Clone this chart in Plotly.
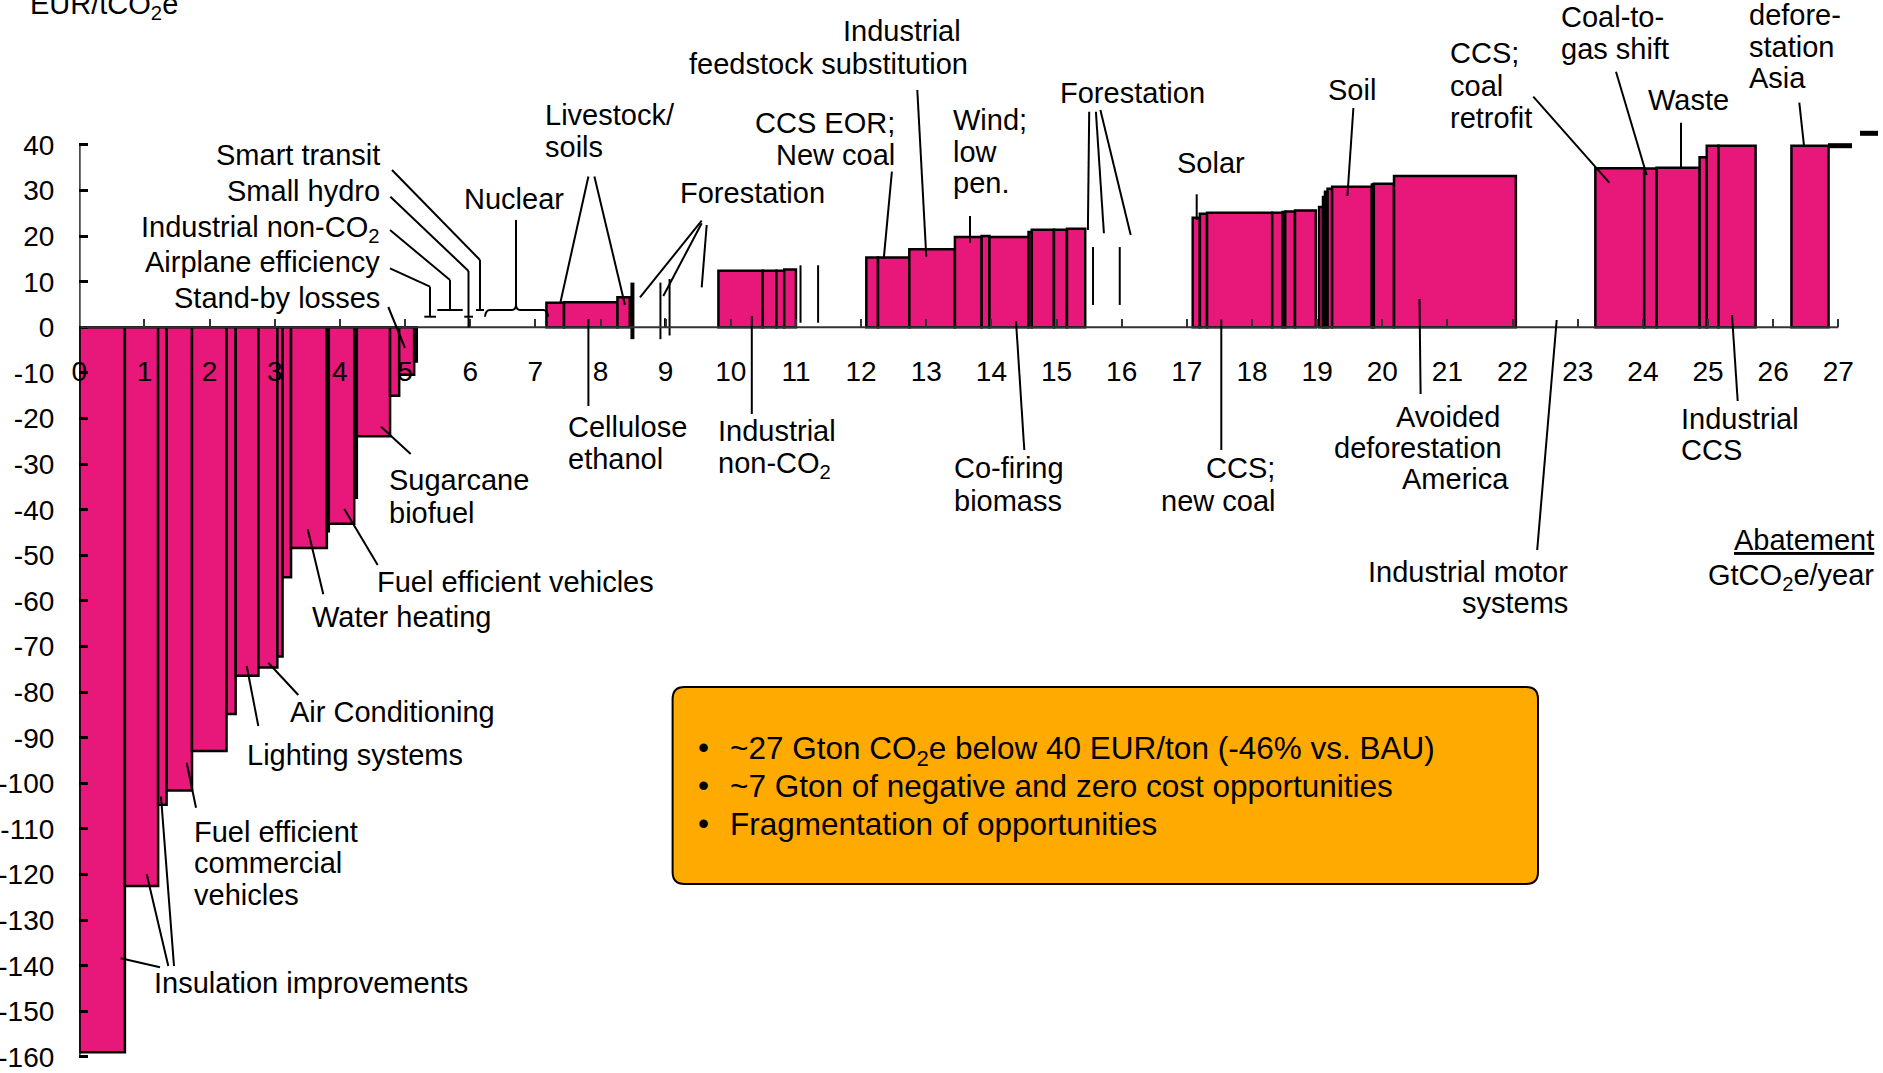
import plotly.graph_objects as go

# ---------------- data ----------------
# abatement segments: left edge (GtCO2e/yr), width (GtCO2e/yr), cost (EUR/tCO2e)
seg_left = [0.00, 0.70, 1.21, 1.34, 1.73, 2.26, 2.40, 2.75, 3.04, 3.12, 3.25, 3.80, 3.83, 4.22, 4.26, 4.77, 4.91, 5.14,
            7.17, 7.44, 8.26,
            9.81, 10.49, 10.70, 10.82,
            12.08, 12.26, 12.74, 13.44, 13.85, 13.97, 14.57, 14.62, 14.96, 15.16,
            17.09, 17.20, 17.31, 18.31, 18.47, 18.51, 18.66,
            19.03, 19.09, 19.12, 19.16, 19.23, 19.84, 19.87, 20.18,
            23.27, 24.02, 24.21, 24.87, 24.98, 25.16,
            26.28]
seg_width = [0.70, 0.51, 0.13, 0.39, 0.53, 0.14, 0.35, 0.29, 0.08, 0.13, 0.55, 0.03, 0.39, 0.04, 0.51, 0.14, 0.23, 0.04,
             0.27, 0.82, 0.19,
             0.68, 0.21, 0.12, 0.18,
             0.18, 0.48, 0.70, 0.41, 0.12, 0.60, 0.05, 0.34, 0.20, 0.28,
             0.11, 0.11, 1.00, 0.16, 0.04, 0.15, 0.32,
             0.06, 0.03, 0.04, 0.07, 0.61, 0.03, 0.31, 1.87,
             0.75, 0.19, 0.66, 0.11, 0.18, 0.57,
             0.57]
seg_cost = [-159.0, -122.5, -104.7, -101.6, -92.9, -84.8, -76.4, -74.6, -72.2, -54.8, -48.4, -44.7, -43.1, -37.4, -23.9, -15.0, -10.4, -7.5,
            5.4, 5.5, 6.6,
            12.4, 12.4, 12.4, 12.7,
            15.3, 15.3, 17.1, 19.8, 20.0, 19.8, 20.9, 21.4, 21.4, 21.6,
            24.0, 24.9, 25.1, 25.1, 25.3, 25.4, 25.6,
            26.4, 28.6, 29.7, 30.4, 30.8, 31.3, 31.5, 33.2,
            34.9, 34.8, 35.0, 37.3, 39.8, 39.8,
            39.8]

# very thin levers drawn as vertical slivers
sliver_x = [8.49, 8.92, 8.99, 9.06, 11.07, 11.34, 15.56, 15.97]
sliver_top = [9.8, 9.8, 2.0, 10.6, 13.6, 13.6, 17.6, 17.6]
sliver_bottom = [-2.6, -2.6, 0.0, -1.8, 1.0, 1.0, 4.9, 4.9]
sliver_width = [4, 2, 2, 2, 2, 2, 2, 2]

x_ticks = list(range(0, 28))
y_ticks = list(range(-160, 41, 10))

# ---------------- layout geometry ----------------
W, H = 1883, 1073
X0_PX = 79.3          # pixel of x = 0
PX_PER_X = 65.15
Y0_PX = 327.3         # pixel of y = 0
PX_PER_Y = 4.56

PINK = "#E8177A"
FONT = "Liberation Sans, Arial, sans-serif"
FS = 29
FS_BOX = 31.5


def px(x):
    return x / W


def py(y):
    return 1 - y / H


fig = go.Figure()

centers = [l + w / 2 for l, w in zip(seg_left, seg_width)]
fig.add_trace(go.Bar(
    x=centers, y=seg_cost, width=seg_width, base=0,
    marker=dict(color=PINK, line=dict(color="black", width=2.5)),
    hoverinfo="skip", showlegend=False,
))

for sx, st, sb, sw in zip(sliver_x, sliver_top, sliver_bottom, sliver_width):
    fig.add_trace(go.Scatter(x=[sx, sx], y=[sb, st], mode="lines",
                             line=dict(color="black", width=sw),
                             hoverinfo="skip", showlegend=False))

shapes = []
# axis lines
shapes.append(dict(type="line", xref="x", yref="y", x0=0, x1=27, y0=0, y1=0,
                   line=dict(color="#333333", width=2)))
shapes.append(dict(type="line", xref="x", yref="y", x0=0, x1=0, y0=-160, y1=40,
                   line=dict(color="black", width=2.5)))


def poly(points, width=2):
    for (xa, ya), (xb, yb) in zip(points[:-1], points[1:]):
        shapes.append(dict(type="line", xref="paper", yref="paper",
                           x0=px(xa), y0=py(ya), x1=px(xb), y1=py(yb),
                           line=dict(color="black", width=width)))


leaders = [
    [(392, 170), (480, 260), (480, 310)], [(476, 310), (484, 310)],
    [(390.4, 196.7), (468.5, 271), (468.5, 327.3)], [(464.3, 316.7), (473, 316.7)],
    [(390, 230), (450, 280), (450, 310)], [(437.3, 310), (462.7, 310)],
    [(390, 268.3), (430, 286.7), (430, 316.7)], [(424.3, 316.7), (436, 316.7)],
    [(388.3, 307), (405, 348)],
    [(516, 220), (516, 305)],
    [(588.4, 176.5), (560.5, 302)], [(594.4, 176.5), (625, 305)],
    [(701.7, 220.7), (640, 297.3)], [(701.7, 223.3), (663.3, 296)], [(706.7, 225), (701.7, 287.3)],
    [(917.3, 90), (926.3, 256.7)],
    [(891.9, 171.7), (883.8, 258.3)],
    [(970, 216), (970, 242.7)],
    [(1089.2, 111.7), (1087.9, 230)], [(1095.9, 111.7), (1103.9, 233.3)], [(1100.4, 110), (1130.7, 235)],
    [(1196.7, 194.3), (1196.7, 220)],
    [(1353.4, 108), (1347.4, 196)],
    [(1533.3, 96.7), (1609.3, 182.7)],
    [(1616, 71.7), (1646.7, 175)],
    [(1681, 122.7), (1681, 168.3)],
    [(1799.3, 102.7), (1804, 145.7)],
    [(588.4, 319), (588.4, 406)],
    [(751.8, 316), (751.8, 414)],
    [(1016, 321), (1024.3, 450)],
    [(1221.3, 319.5), (1221.3, 450)],
    [(1419.5, 299), (1420.6, 394)],
    [(1556.7, 320), (1537.2, 550)],
    [(1732, 315), (1737.7, 401)],
    [(381, 426.7), (410.7, 454)],
    [(344.3, 509), (377.7, 565)],
    [(307.7, 529.3), (323.3, 594.3)],
    [(268.3, 662.7), (298.3, 695)],
    [(246.7, 666), (258.3, 726)],
    [(186.7, 762.7), (196, 807.7)],
    [(120.7, 958.3), (160, 967.3)], [(146.7, 874.3), (168.3, 966)], [(161, 796.7), (174, 966)],
]
for pts in leaders:
    poly(pts)

# nuclear brace
path = "M{},{} Q{},{} {},{} L{},{} Q{},{} {},{} Q{},{} {},{} L{},{} Q{},{} {},{}".format(
    px(485), py(316.7), px(485.5), py(310), px(490), py(310),
    px(512), py(310), px(515.5), py(310), px(516), py(305),
    px(516.5), py(310), px(520), py(310), px(543), py(310),
    px(547.5), py(310), px(548.3), py(316.7))
shapes.append(dict(type="path", xref="paper", yref="paper", path=path,
                   line=dict(color="black", width=2)))

# dashes at the right
shapes.append(dict(type="line", xref="paper", yref="paper", x0=px(1828), x1=px(1852), y0=py(145.7), y1=py(145.7),
                   line=dict(color="black", width=5)))
shapes.append(dict(type="line", xref="paper", yref="paper", x0=px(1860), x1=px(1878), y0=py(133.3), y1=py(133.3),
                   line=dict(color="black", width=5)))

# orange text box with rounded corners
bx0, bx1, by0, by1, r = 672.6, 1538, 687, 884, 12
box = ("M{},{} L{},{} Q{},{} {},{} L{},{} Q{},{} {},{} L{},{} Q{},{} {},{} L{},{} Q{},{} {},{} Z").format(
    px(bx0 + r), py(by0), px(bx1 - r), py(by0), px(bx1), py(by0), px(bx1), py(by0 + r),
    px(bx1), py(by1 - r), px(bx1), py(by1), px(bx1 - r), py(by1),
    px(bx0 + r), py(by1), px(bx0), py(by1), px(bx0), py(by1 - r),
    px(bx0), py(by0 + r), px(bx0), py(by0), px(bx0 + r), py(by0))
shapes.append(dict(type="path", xref="paper", yref="paper", path=box,
                   fillcolor="#FFAA00", line=dict(color="black", width=2), layer="above"))

annotations = []


def label(text, x, y, anchor="left", size=FS):
    annotations.append(dict(text=text, xref="paper", yref="paper", x=px(x), y=py(y),
                            xanchor=anchor, yanchor="middle", showarrow=False,
                            font=dict(family=FONT, size=size, color="black")))


def block(lines, x, y0, anchor="left", spacing=31.6):
    if not isinstance(x, (list, tuple)):
        x = [x] * len(lines)
    for i, (t, xx) in enumerate(zip(lines, x)):
        label(t, xx, y0 + i * spacing, anchor)


label("EUR/tCO<sub>2</sub>e", 28, 6)
for t, yy in [("Smart transit", 155), ("Small hydro", 191.5), ("Industrial non-CO<sub>2</sub>", 228.5),
              ("Airplane efficiency", 261.7), ("Stand-by losses", 297.7)]:
    label(t, 381.5, yy, "right")
label("Nuclear", 514, 199.5, "center")
block(["Livestock/", "soils"], 543, 115)
label("Forestation", 752.5, 193.3, "center")
block(["Industrial", "feedstock substitution"], [963, 970], 31.2, "right", 32.4)
block(["CCS EOR;", "New coal"], 897, 123, "right")
block(["Wind;", "low", "pen."], 951, 120)
label("Forestation", 1132.7, 93, "center")
label("Solar", 1210.8, 162.5, "center")
label("Soil", 1352, 90, "center")
block(["CCS;", "coal", "retrofit"], 1448.3, 53.5, spacing=32.2)
block(["Coal-to-", "gas shift"], 1559.3, 16.5, spacing=32)
label("Waste", 1645.7, 100)
block(["defore-", "station", "Asia"], 1746.7, 14.8, spacing=31.7)

block(["Cellulose", "ethanol"], 565.6, 427.5, spacing=31.2)
block(["Industrial", "non-CO<sub>2</sub>"], 715.7, 431, spacing=33.5)
block(["Co-firing", "biomass"], 952.3, 468.4, spacing=32.4)
block(["CCS;", "new coal"], 1276.6, 468.4, "right", 32.4)
block(["Avoided", "deforestation", "America"], [1502.3, 1503.5, 1510.7], 416.7, "right", 31.3)
block(["Industrial motor", "systems"], 1569.6, 571.6, "right", 31.3)
block(["Industrial", "CCS"], 1678.9, 419, spacing=31.3)
block(["Sugarcane", "biofuel"], 386.7, 480.4, spacing=32.4)
label("Fuel efficient vehicles", 374.7, 582.4)
label("Water heating", 309.8, 617.3)
label("Air Conditioning", 288.2, 712)
label("Lighting systems", 245, 755.4)
block(["Fuel efficient", "commercial", "vehicles"], 191.7, 831.7, spacing=31.6)
label("Insulation improvements", 152.3, 983.3)
label("<u>Abatement</u>", 1876, 540.4, "right")
label("GtCO<sub>2</sub>e/year", 1876, 577, "right")

# text box content
box_lines = ["~27 Gton CO<sub>2</sub>e below 40 EUR/ton (-46% vs. BAU)",
             "~7 Gton of negative and zero cost opportunities",
             "Fragmentation of opportunities"]
for i, t in enumerate(box_lines):
    yy = [748, 785.5, 824][i]
    label("•", 703, yy - 1, "center", FS_BOX)
    label(t, 728, yy + (2 if i == 0 else 0), "left", FS_BOX)

fig.update_layout(
    width=W, height=H,
    margin=dict(l=0, r=0, t=0, b=0, autoexpand=False),
    paper_bgcolor="white", plot_bgcolor="white",
    barmode="overlay",
    showlegend=False,
    shapes=shapes,
    annotations=annotations,
    font=dict(family=FONT, size=FS, color="black"),
    xaxis=dict(
        domain=[X0_PX / W, 1],
        range=[0, (W - X0_PX) / PX_PER_X],
        anchor="free", position=(H - Y0_PX) / H,
        tickvals=x_ticks, ticktext=[str(v) for v in x_ticks],
        ticks="inside", ticklen=8, tickwidth=2, tickcolor="#333333",
        showline=False, showgrid=False, zeroline=False,
        tickfont=dict(family=FONT, size=28, color="black"),
        ticklabelstandoff=25,
        automargin=False,
        fixedrange=True,
    ),
    yaxis=dict(
        domain=[0, 1],
        range=[-(H - Y0_PX) / PX_PER_Y, Y0_PX / PX_PER_Y],
        tickvals=y_ticks, ticktext=[str(v) for v in y_ticks],
        ticks="inside", ticklen=9, tickwidth=2.5, tickcolor="black",
        showline=False, showgrid=False, zeroline=False,
        tickfont=dict(family=FONT, size=28, color="black"),
        ticklabelstandoff=24,
        automargin=False,
        fixedrange=True,
    ),
)

fig.write_html("out.html", config={"displayModeBar": False},
               post_script="document.body.style.margin='0';document.body.style.overflow='hidden';")
